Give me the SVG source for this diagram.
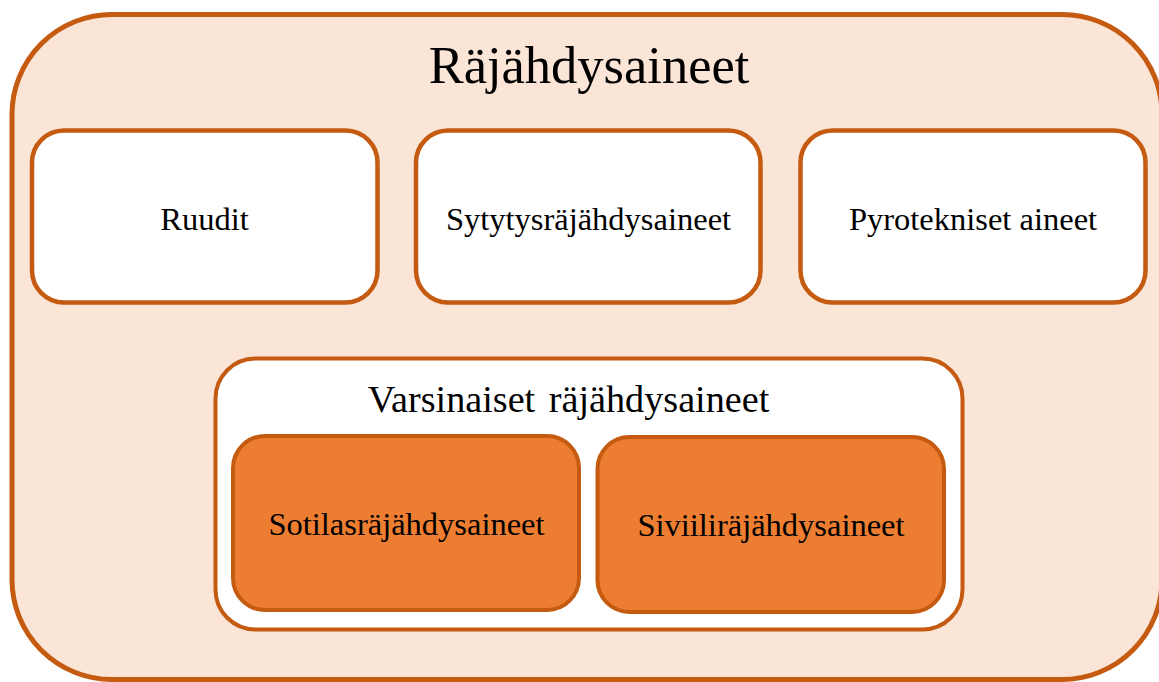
<svg xmlns="http://www.w3.org/2000/svg" width="1159" height="682" viewBox="0 0 1159 682">
<style>
.frame{fill:#FBE5D6;stroke:#C55A11;stroke-width:5}
.box{fill:#FFFFFF;stroke:#C55A11;stroke-width:4.5}
.inner{fill:#ED7D31;stroke:#C55A11;stroke-width:4}
text{font-family:"Liberation Serif","Times New Roman",serif;fill:#000;text-anchor:middle}
.t{font-size:32.5px}
</style>
<rect width="1159" height="682" fill="#FFFFFF"/>
<g id="rajahdysaineet">
<rect class="frame" x="12" y="14.5" width="1150" height="665" rx="100" ry="100"/>
<text x="589" y="83" style="font-size:52.5px">Räjähdysaineet</text>
</g>
<g id="ruudit">
<rect class="box" x="32" y="130.5" width="345.5" height="172" rx="32" ry="32"/>
<text class="t" x="204.5" y="230">Ruudit</text>
</g>
<g id="sytytysrajahdysaineet">
<rect class="box" x="416" y="130.5" width="344.5" height="172" rx="32" ry="32"/>
<text class="t" x="588.5" y="229.5">Sytytysräjähdysaineet</text>
</g>
<g id="pyrotekniset">
<rect class="box" x="800.5" y="130.5" width="345" height="172" rx="32" ry="32"/>
<text class="t" x="973" y="229.5">Pyrotekniset aineet</text>
</g>
<g id="varsinaiset">
<rect class="box" x="215.5" y="358.5" width="747" height="271" rx="40" ry="40" style="stroke-width:4"/>
<text x="568.5" y="412" style="font-size:38.2px;word-spacing:4px">Varsinaiset räjähdysaineet</text>
</g>
<g id="sotilasrajahdysaineet">
<rect class="inner" x="233" y="436" width="346" height="174" rx="32" ry="32"/>
<text class="t" x="406.5" y="535">Sotilasräjähdysaineet</text>
</g>
<g id="siviilirajahdysaineet">
<rect class="inner" x="597.5" y="437" width="346.5" height="175" rx="32" ry="32"/>
<text class="t" x="771" y="536">Siviiliräjähdysaineet</text>
</g>
<g id="connectors"></g>
</svg>
